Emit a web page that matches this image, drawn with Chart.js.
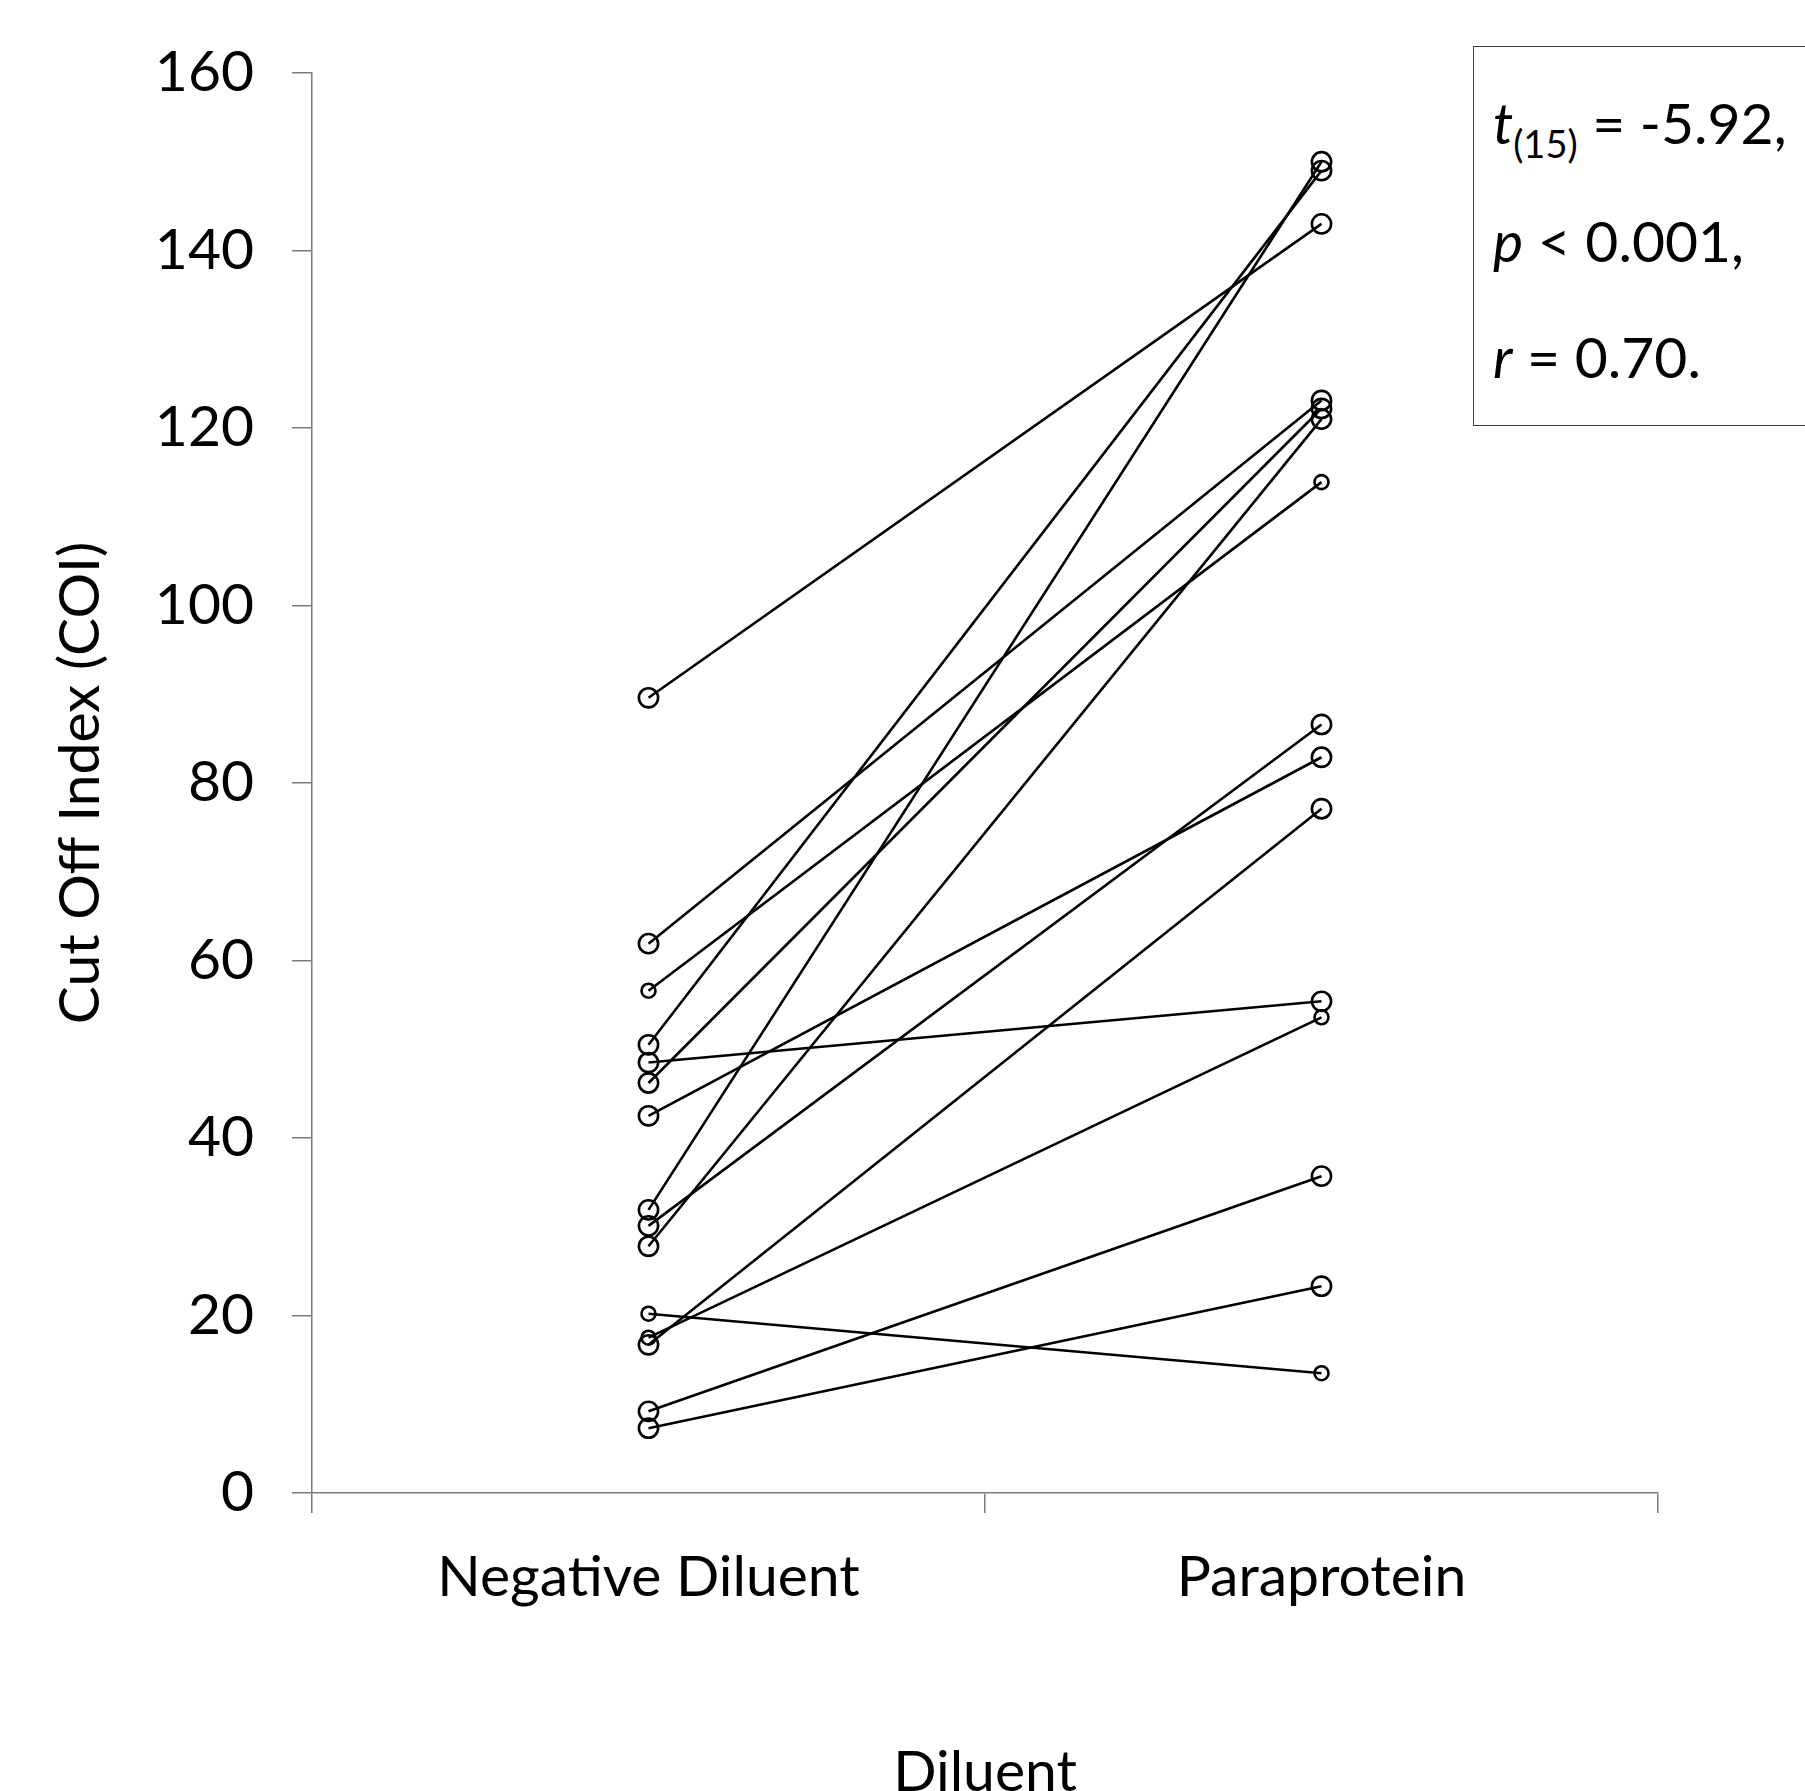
<!DOCTYPE html>
<html>
<head>
<meta charset="utf-8">
<script src="https://cdn.jsdelivr.net/npm/chart.js@4/dist/chart.umd.min.js"></script>
<style>
  html, body { margin: 0; padding: 0; background: #fff; }
  #wrap { position: relative; width: 1805px; height: 1791px; overflow: hidden; }
  #stats {
    position: absolute; left: 1473px; top: 46px; width: 420px; height: 380px;
    box-sizing: border-box; border: 1.5px solid #404040; background: #fff;
    font-family: Lato, sans-serif; font-size: 57px; color: #000;
  }
  #stats .ln { position: absolute; left: 19px; line-height: 68px; white-space: nowrap; }
  #stats sub { font-size: 38px; vertical-align: -14px; line-height: 0; }
</style>
</head>
<body>
<div id="wrap">
  <canvas id="myChart" width="1805" height="1791"></canvas>
  <div id="stats">
    <div class="ln" style="top:41px"><i>t</i><sub>(15)</sub> = -5.92,</div>
    <div class="ln" style="top:159px"><i>p</i> &lt; 0.001,</div>
    <div class="ln" style="top:275px"><i>r</i> = 0.70.</div>
  </div>
</div>
<script>
const categories = ['Negative Diluent', 'Paraprotein'];

// samples shown with the bigger open circle
const negLarge  = [89.6, 61.9, 50.5, 48.5, 46.2, 42.5, 31.9, 30.1, 27.8, 16.7, 9.2, 7.3];
const paraLarge = [143.0, 123.1, 149.0, 55.4, 122.2, 82.9, 150.0, 86.6, 121.0, 77.1, 35.7, 23.3];

// samples shown with the smaller open circle
const negSmall  = [56.6, 20.2, 17.5];
const paraSmall = [113.9, 13.5, 53.6];

const yMin = 0, yMax = 160, yStep = 20;

Chart.defaults.font.family = 'Lato';
const axisGray = '#7a7a7a';
const bigFont = { family: 'Lato', size: 57 };

function pairSet(a, b, r) {
  return {
    data: [a, b],
    borderColor: '#000',
    borderWidth: 2.6,
    tension: 0,
    pointRadius: r,
    pointBorderWidth: 2.6,
    pointBorderColor: '#000',
    pointBackgroundColor: 'rgba(0,0,0,0)'
  };
}

let datasets = [];
for (let i = 0; i < negLarge.length; i++) datasets.push(pairSet(negLarge[i], paraLarge[i], 9.6));
for (let i = 0; i < negSmall.length; i++) datasets.push(pairSet(negSmall[i], paraSmall[i], 7));

let canva = document.getElementById('myChart').getContext('2d');
let config = {
  type: 'line',
  data: { labels: categories, datasets: datasets },
  options: {
    responsive: false,
    animation: false,
    layout: { padding: { top: 73, right: 147, left: 0, bottom: 0 } },
    plugins: { legend: { display: false }, tooltip: { enabled: false } },
    scales: {
      x: {
        type: 'category',
        offset: true,
        grid: { offset: true, drawOnChartArea: false, color: axisGray, lineWidth: 1.5, tickLength: 20 },
        border: { color: axisGray, width: 1.5 },
        ticks: { font: bigFont, color: '#000', padding: 30, maxRotation: 0 },
        title: { display: true, text: 'Diluent', font: bigFont, color: '#000', padding: { top: 0, bottom: -16 } },
        afterFit: s => { s.height = 298; }
      },
      y: {
        min: yMin, max: yMax,
        grid: { drawOnChartArea: false, color: axisGray, lineWidth: 1.5, tickLength: 20 },
        border: { color: axisGray, width: 1.5 },
        ticks: { stepSize: yStep, font: bigFont, color: '#000', padding: 38 },
        title: { display: true, text: 'Cut Off Index (COI)', font: bigFont, color: '#000', padding: { top: 46, bottom: 0 } },
        afterFit: s => { s.width = 312; }
      }
    }
  }
};

window.grafica = new Chart(canva, config);
</script>
</body>
</html>
